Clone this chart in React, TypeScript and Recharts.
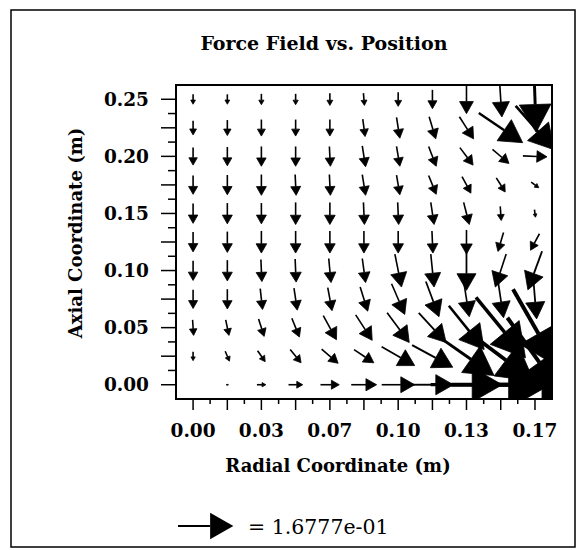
import React from "react"
import { ScatterChart, Scatter, XAxis, YAxis } from "recharts"

// grid of sample positions (m)
const radialPositions = [0, 0.0167, 0.0333, 0.05, 0.0667, 0.0833, 0.1, 0.1167, 0.1333, 0.15, 0.1667]
const axialPositions = [0, 0.025, 0.05, 0.075, 0.1, 0.125, 0.15, 0.175, 0.2, 0.225, 0.25]

// force components, one row per axial position (bottom row first)
const radialForce = [
  [0, 0.007, 0.027, 0.043, 0.057, 0.077, 0.1, 0.127, 0.217, 0.3, 0.267],
  [0, 0.013, 0.023, 0.033, 0.05, 0.06, 0.1, 0.123, 0.167, 0.2, 0.167],
  [0.003, 0.01, 0.017, 0.023, 0.04, 0.05, 0.067, 0.083, 0.107, 0.15, 0.133],
  [0, 0, 0.007, 0.01, 0.013, 0.023, 0.04, 0.04, 0.017, 0.017, 0.01],
  [0, 0, 0.003, 0.003, 0.007, 0.01, 0.02, 0.01, 0, -0.033, -0.043],
  [0, 0, 0, 0, 0, 0, 0, 0.003, 0, -0.017, -0.027],
  [0, 0, 0, 0, 0, 0.003, 0.003, 0.01, 0.017, 0.003, 0.003],
  [0, 0, 0, 0.003, 0.003, 0.01, 0.01, 0.023, 0.027, 0.027, 0.023],
  [0, 0, 0, 0, 0.003, 0.01, 0.01, 0.023, 0.04, 0.05, 0.073],
  [0, 0, 0, 0, 0, 0.007, 0.01, 0.02, 0.043, 0.133, 0.117],
  [0, 0, 0, 0, 0, 0.003, 0, 0, 0, 0.007, 0.007],
]

const axialForce = [
  [0, 0, 0, 0, 0, 0, 0, 0, 0, 0, 0],
  [-0.027, -0.03, -0.033, -0.04, -0.043, -0.04, -0.057, -0.067, -0.117, -0.15, -0.233],
  [-0.047, -0.047, -0.053, -0.057, -0.073, -0.077, -0.09, -0.09, -0.133, -0.183, -0.233],
  [-0.057, -0.06, -0.063, -0.067, -0.07, -0.073, -0.093, -0.107, -0.107, -0.113, -0.12],
  [-0.06, -0.063, -0.067, -0.07, -0.073, -0.073, -0.1, -0.1, -0.12, -0.1, -0.117],
  [-0.06, -0.063, -0.067, -0.067, -0.067, -0.067, -0.067, -0.067, -0.073, -0.057, -0.05],
  [-0.06, -0.063, -0.063, -0.067, -0.067, -0.067, -0.067, -0.067, -0.067, -0.043, -0.023],
  [-0.057, -0.06, -0.063, -0.063, -0.063, -0.063, -0.06, -0.057, -0.05, -0.043, -0.017],
  [-0.053, -0.057, -0.06, -0.06, -0.06, -0.063, -0.06, -0.06, -0.053, -0.043, -0.003],
  [-0.043, -0.047, -0.05, -0.05, -0.05, -0.053, -0.063, -0.067, -0.067, -0.09, -0.133],
  [-0.03, -0.03, -0.033, -0.033, -0.037, -0.037, -0.043, -0.057, -0.087, -0.107, -0.2],
]

const xTicks = [
  0, 0.0083, 0.0167, 0.025, 0.0333, 0.0417, 0.05, 0.0583, 0.0667, 0.075, 0.0833,
  0.0917, 0.1, 0.1083, 0.1167, 0.125, 0.1333, 0.1417, 0.15, 0.1583, 0.1667,
]
const yTicks = [
  0, 0.0125, 0.025, 0.0375, 0.05, 0.0625, 0.075, 0.0875, 0.1, 0.1125, 0.125,
  0.1375, 0.15, 0.1625, 0.175, 0.1875, 0.2, 0.2125, 0.225, 0.2375, 0.25,
]
const referenceForce = 0.16777

const PX_PER_FORCE = 330
const FONT = "'DejaVu Serif', serif"

const points = axialPositions.flatMap((z, j) =>
  radialPositions.map((r, k) => ({ r, z, fr: radialForce[j][k], fz: axialForce[j][k] }))
)

function sci(v: number) {
  const [m, e] = v.toExponential(4).split("e")
  const n = Number(e)
  return `${m}e${n < 0 ? "-" : "+"}${String(Math.abs(n)).padStart(2, "0")}`
}

function arrowPath(x1: number, y1: number, x2: number, y2: number) {
  const dx = x2 - x1
  const dy = y2 - y1
  const len = Math.hypot(dx, dy)
  const ux = dx / len
  const uy = dy / len
  const headLen = len * 0.42
  const halfW = len * 0.24
  const bx = x2 - ux * headLen
  const by = y2 - uy * headLen
  return {
    shaft: { x1, y1, x2: bx, y2: by },
    head: `${x2},${y2} ${bx - uy * halfW},${by + ux * halfW} ${bx + uy * halfW},${by - ux * halfW}`,
    len,
  }
}

const Arrow = (props: any) => {
  const { cx, cy, payload } = props
  const dx = payload.fr * PX_PER_FORCE
  const dy = -payload.fz * PX_PER_FORCE
  if (Math.hypot(dx, dy) < 0.5) return <g />
  const a = arrowPath(cx - dx / 2, cy - dy / 2, cx + dx / 2, cy + dy / 2)
  const w = Math.min(4, Math.max(1.6, a.len * 0.045))
  return (
    <g>
      <line {...a.shaft} stroke="#000" strokeWidth={w} />
      <polygon points={a.head} fill="#000" stroke="#000" strokeWidth={0.8} strokeLinejoin="round" />
    </g>
  )
}

const XTick = (props: any) => {
  const { x, y, payload } = props
  const k = Math.round(payload.value * 120)
  const major = k % 2 === 0
  return (
    <g>
      <line x1={x} x2={x} y1={y} y2={y + (major ? 11 : 5)} stroke="#000" strokeWidth={1.5} />
      {k % 4 === 0 && (
        <text x={x} y={y + 38} textAnchor="middle" fontFamily={FONT} fontWeight="bold" fontSize={18.5} fill="#000">
          {payload.value.toFixed(2)}
        </text>
      )}
    </g>
  )
}

const YTick = (props: any) => {
  const { x, y, payload } = props
  const k = Math.round(payload.value * 80)
  const major = k % 2 === 0
  return (
    <g>
      <line x1={x - (major ? 15 : 8)} x2={x} y1={y} y2={y} stroke="#000" strokeWidth={1.5} />
      {k % 4 === 0 && (
        <text x={x - 27} y={y + 6.5} textAnchor="end" fontFamily={FONT} fontWeight="bold" fontSize={18.5} fill="#000">
          {payload.value.toFixed(2)}
        </text>
      )}
    </g>
  )
}

export default function App() {
  const legend = arrowPath(178, 526, 178 + referenceForce * PX_PER_FORCE, 526)
  return (
    <div style={{ position: "absolute", left: 0, top: 0, width: 580, height: 550, background: "#fff" }}>
      <ScatterChart width={580} height={550} margin={{ top: 85, right: 28, bottom: 150, left: 175 }}>
        <XAxis
          type="number"
          dataKey="r"
          domain={[-0.00833, 0.175]}
          allowDataOverflow
          ticks={xTicks}
          interval={0}
          tickSize={0}
          tickMargin={0}
          tickLine={false}
          height={1}
          axisLine={{ stroke: "#000", strokeWidth: 2 }}
          tick={(p: any) => <XTick {...p} />}
        />
        <YAxis
          type="number"
          dataKey="z"
          domain={[-0.0125, 0.2625]}
          allowDataOverflow
          ticks={yTicks}
          interval={0}
          tickSize={0}
          tickMargin={0}
          tickLine={false}
          width={1}
          axisLine={{ stroke: "#000", strokeWidth: 2 }}
          tick={(p: any) => <YTick {...p} />}
        />
        <Scatter data={points} shape={(p: any) => <Arrow {...p} />} isAnimationActive={false} />
      </ScatterChart>
      <svg width={580} height={550} style={{ position: "absolute", left: 0, top: 0, pointerEvents: "none" }}>
        <rect x={11} y={10} width={564} height={537} fill="none" stroke="#000" strokeWidth={1.5} />
        <rect x={176} y={85} width={376} height={314} fill="none" stroke="#000" strokeWidth={2} />
        <text x={324} y={50} textAnchor="middle" fontFamily={FONT} fontWeight="bold" fontSize={19}>
          Force Field vs. Position
        </text>
        <text x={338} y={472} textAnchor="middle" fontFamily={FONT} fontWeight="bold" fontSize={18}>
          Radial Coordinate (m)
        </text>
        <text
          x={82}
          y={233}
          textAnchor="middle"
          transform="rotate(-90 82 233)"
          fontFamily={FONT}
          fontWeight="bold"
          fontSize={18}
        >
          Axial Coordinate (m)
        </text>
        <line {...legend.shaft} stroke="#000" strokeWidth={2.2} />
        <polygon points={legend.head} fill="#000" />
        <text x={248} y={534} fontFamily={FONT} fontSize={20.5}>
          = {sci(referenceForce)}
        </text>
      </svg>
    </div>
  )
}
